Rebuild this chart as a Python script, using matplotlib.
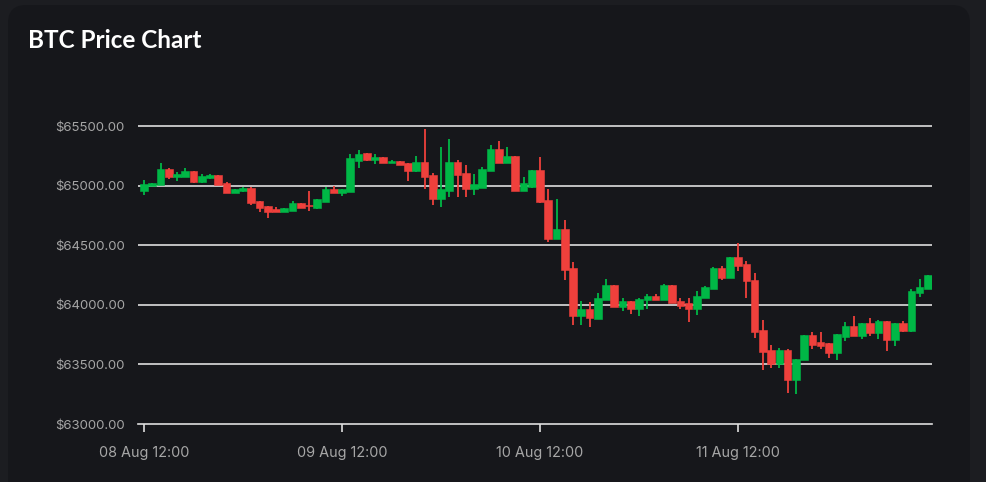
import numpy as np
import pandas as pd
import matplotlib
matplotlib.use("Agg")
import matplotlib.pyplot as plt
import matplotlib.dates as mdates
from matplotlib.patches import FancyBboxPatch
from matplotlib.transforms import IdentityTransform

# hourly candles, 08 Aug 12:00 .. 12 Aug 11:00
times = pd.date_range("2024-08-08 12:00", periods=96, freq="h")

opens = [64955, 64998, 65006, 65137, 65075, 65075, 65126, 65033, 65067, 65086,
         65020, 64941, 64953, 64983, 64872, 64830, 64802, 64777, 64790, 64858,
         64833, 64816, 64866, 64969, 64941, 64950, 65209, 65270, 65215, 65237,
         65193, 65204, 65187, 65126, 65198, 65086, 64888, 64958, 65198, 65109,
         64972, 64983, 65123, 65307, 65193, 65251, 64958, 64992, 65131, 64880,
         64554, 64635, 64308, 63904, 63965, 63884, 64043, 64169, 63982, 64029,
         63965, 64037, 64077, 64037, 64169, 64035, 64015, 63965, 64057, 64133,
         64308, 64224, 64400, 64344, 64210, 63786, 63624, 63507, 63624, 63373,
         63535, 63750, 63685, 63680, 63596, 63733, 63822, 63741, 63844, 63761,
         63861, 63705, 63844, 63783, 64102, 64130]
closes = [65011, 65022, 65137, 65070, 65095, 65126, 65033, 65081, 65089, 65006,
          64941, 64969, 64983, 64852, 64810, 64782, 64777, 64810, 64858, 64816,
          64830, 64886, 64969, 64941, 64969, 65229, 65265, 65215, 65237, 65193,
          65206, 65170, 65126, 65198, 65070, 64888, 64975, 65198, 65089, 64972,
          65014, 65140, 65307, 65193, 65251, 64958, 65020, 65131, 64860, 64554,
          64635, 64294, 63904, 63965, 63890, 64057, 64169, 63982, 64029, 63965,
          64051, 64077, 64037, 64169, 64015, 63993, 63965, 64077, 64149, 64308,
          64224, 64400, 64322, 64196, 63769, 63605, 63507, 63624, 63373, 63549,
          63750, 63666, 63658, 63596, 63755, 63822, 63738, 63844, 63761, 63861,
          63705, 63844, 63783, 64118, 64152, 64249]
highs = [65047, 65025, 65193, 65148, 65117, 65148, 65126, 65095, 65098, 65089,
         65033, 64972, 64992, 64992, 64872, 64830, 64824, 64810, 64869, 64858,
         64958, 64886, 64992, 64997, 64969, 65265, 65298, 65270, 65265, 65237,
         65215, 65204, 65187, 65248, 65472, 65103, 65321, 65388, 65215, 65170,
         65098, 65153, 65338, 65374, 65327, 65251, 65070, 65131, 65237, 64969,
         64885, 64713, 64356, 64029, 64024, 64099, 64216, 64169, 64057, 64029,
         64060, 64091, 64091, 64177, 64169, 64057, 64054, 64113, 64155, 64317,
         64322, 64400, 64517, 64366, 64266, 63870, 63663, 63635, 63630, 63549,
         63750, 63772, 63772, 63680, 63755, 63853, 63906, 63844, 63889, 63872,
         63861, 63844, 63867, 64129, 64213, 64249]
lows = [64925, 64995, 65005, 65059, 65039, 65075, 65025, 65020, 65059, 65003,
        64941, 64938, 64950, 64838, 64782, 64732, 64777, 64777, 64790, 64816,
        64790, 64805, 64866, 64941, 64916, 64950, 65150, 65209, 65181, 65190,
        65193, 65170, 65042, 65112, 64972, 64841, 64824, 64902, 64902, 64902,
        64925, 64983, 65123, 65193, 65193, 64958, 64958, 64978, 64852, 64523,
        64554, 64205, 63834, 63834, 63814, 63884, 64043, 63982, 63946, 63926,
        63904, 63965, 64037, 64037, 64015, 63968, 63852, 63918, 64057, 64133,
        64205, 64224, 64280, 64054, 63719, 63457, 63468, 63468, 63256, 63248,
        63535, 63630, 63630, 63552, 63541, 63699, 63736, 63713, 63741, 63716,
        63613, 63652, 63775, 63775, 64063, 64130]

y_ticks = [63000, 63500, 64000, 64500, 65000, 65500]
x_ticks = pd.date_range("2024-08-08 12:00", periods=4, freq="24h")

up_col = "#00b746"
down_col = "#ef403c"
outer_bg = "#1c1d21"
card_bg = "#16171b"

plt.rcParams["font.family"] = ["Inter", "DejaVu Sans"]

fig = plt.figure(figsize=(9.87, 4.82), dpi=100, facecolor=outer_bg)
card = FancyBboxPatch((8, -30), 962, 507, boxstyle="round,pad=0,rounding_size=18",
                      transform=IdentityTransform(), facecolor=card_bg,
                      edgecolor="none", zorder=-5)
fig.patches.append(card)

fig.text(28 / 987, 1 - 41 / 482, "BTC Price Chart", color="white",
         fontsize=17.5, fontweight="bold", family=["Lato", "DejaVu Sans"],
         va="center", ha="left")

ax = fig.add_axes([138 / 987, (482 - 424) / 482, (932 - 138) / 987, (424 - 110) / 482])
ax.set_facecolor("none")

x = mdates.date2num(times)
o = np.array(opens, dtype=float)
c = np.array(closes, dtype=float)
h = np.array(highs, dtype=float)
l = np.array(lows, dtype=float)
colors = np.where(c >= o, up_col, down_col)
bottom = np.minimum(o, c)
height = np.maximum(np.abs(c - o), 6)

ax.vlines(x, l, h, colors=colors, linewidth=1.3, zorder=3)
ax.bar(x, height, bottom=bottom, width=0.93 / 24, color=colors,
       edgecolor=colors, linewidth=0.4, zorder=4)

ax.set_ylim(63000, 63000 + 314 * 8.39)
ax.set_xlim(x[0] - 0.73 / 24, x[0] + 95.5 / 24)

ax.set_yticks(y_ticks)
ax.set_yticklabels([f"${v:.2f}" for v in y_ticks])
ax.set_xticks(mdates.date2num(x_ticks))
ax.xaxis.set_major_formatter(mdates.DateFormatter("%d %b %H:%M"))

for v in y_ticks[1:]:
    ax.axhline(v, color="#dedede", linewidth=1.2, zorder=1)

for s in ["top", "right", "left"]:
    ax.spines[s].set_visible(False)
ax.spines["bottom"].set_color("#dedede")
ax.spines["bottom"].set_linewidth(1.2)

ax.tick_params(axis="y", length=0, pad=9.5, labelsize=9.5, labelcolor="#a6a6a6")
ax.tick_params(axis="x", length=6, width=1.2, color="#dedede", pad=10,
               labelsize=10.4, labelcolor="#a6a6a6")

fig.savefig("out.png", dpi=100, facecolor=outer_bg)
